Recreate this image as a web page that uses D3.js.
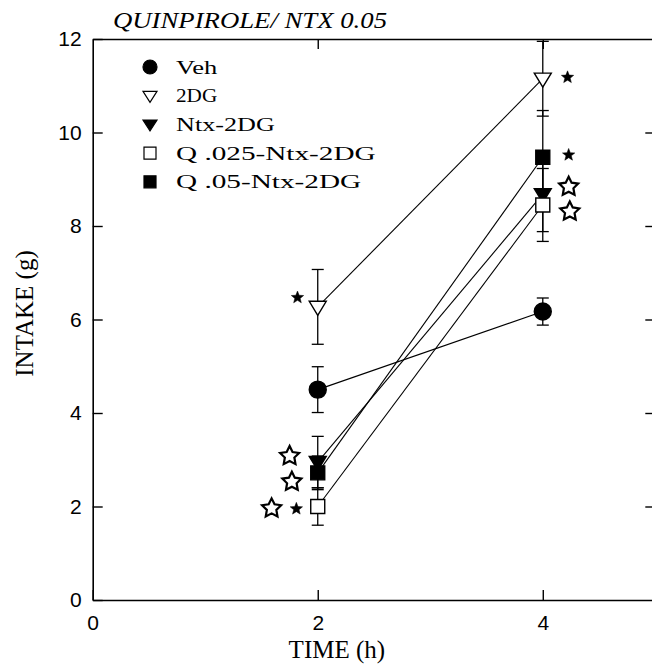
<!DOCTYPE html>
<html>
<head>
<meta charset="utf-8">
<script src="https://cdn.jsdelivr.net/npm/d3@7"></script>
<style>
  html, body { margin: 0; padding: 0; background: #fff; }
  svg { display: block; }
</style>
</head>
<body>
<svg id="chart" width="652" height="665"></svg>
<script>
// Food intake after quinpirole / naltrexone pretreatment, means ± SEM
const times = [2, 4];
const seriesNames = ["Veh", "2DG", "Ntx-2DG", "Q .025-Ntx-2DG", "Q .05-Ntx-2DG"];
const seriesShapes = ["circle", "triangleOpen", "triangleFilled", "squareOpen", "squareFilled"];

const vehMean  = [4.50, 6.17];
const vehSE    = [0.49, 0.29];
const dgMean   = [6.27, 11.15];
const dgSE     = [0.80, 0.80];
const ntxMean  = [2.95, 8.68];
const ntxSE    = [0.55, 0.80];
const q025Mean = [2.00, 8.45];
const q025SE   = [0.40, 0.78];
const q05Mean  = [2.72, 9.47];
const q05SE    = [0.36, 1.00];

const xTicks = [0, 2, 4];
const yTicks = [0, 2, 4, 6, 8, 10, 12];

// significance stars: position in (time, intake) units, filled = small solid star
const starTime   = [4.22, 4.23, 4.23, 4.24, 1.82, 1.75, 1.77, 1.59, 1.81];
const starIntake = [11.18, 9.52, 8.84, 8.31, 6.47, 3.08, 2.53, 1.96, 1.95];
const starFilled = [true, true, false, false, true, false, false, false, true];

const chartTitle = "QUINPIROLE/ NTX 0.05";
const xTitle = "TIME (h)";
const yTitle = "INTAKE (g)";

const means = [vehMean, dgMean, ntxMean, q025Mean, q05Mean];
const ses = [vehSE, dgSE, ntxSE, q025SE, q05SE];
const series = seriesNames.map((name, i) => ({
  name, shape: seriesShapes[i],
  points: times.map((t, j) => ({ t, m: means[i][j], se: ses[i][j] }))
}));
const stars = starTime.map((t, i) => ({ t, v: starIntake[i], filled: starFilled[i] }));

const svg = d3.select("#chart");
const x = d3.scaleLinear().domain([0, 5]).range([92.7, 655.3]);
const y = d3.scaleLinear().domain([0, 12]).range([600, 39]);

const serif = "'Liberation Serif', 'DejaVu Serif', serif";
const sans = "'Liberation Sans', Arial, sans-serif";

// marker shapes
function markerPath(shape, s) {
  if (shape === "circle") return d3.symbol(d3.symbolCircle, Math.PI * s.r * s.r)();
  if (shape.startsWith("square")) return d3.symbol(d3.symbolSquare, s.sq * s.sq)();
  const w = s.tw, h = s.th;
  return `M${-w / 2},${-h * 0.4}L${w / 2},${-h * 0.4}L0,${h * 0.6}Z`;
}
function isFilled(shape) { return shape === "circle" || shape.endsWith("Filled"); }

function starPath(rOut, rIn) {
  const p = d3.path();
  for (let k = 0; k < 10; k++) {
    const r = k % 2 === 0 ? rOut : rIn;
    const a = -Math.PI / 2 + k * Math.PI / 5;
    const px = r * Math.cos(a), py = r * Math.sin(a);
    if (k === 0) p.moveTo(px, py); else p.lineTo(px, py);
  }
  p.closePath();
  return p.toString();
}

// axes
function styleAxis(g) {
  g.select(".domain").attr("stroke", "#000").attr("stroke-width", 1.6);
  g.selectAll(".tick line").attr("stroke", "#000").attr("stroke-width", 1.4);
}

svg.append("g")
  .attr("transform", `translate(${x(0)},0)`)
  .call(d3.axisLeft(y).tickValues(yTicks).tickSize(-10).tickSizeOuter(0).tickPadding(11).tickFormat(d3.format("d")))
  .call(styleAxis)
  .call(g => g.selectAll(".tick text").attr("font-family", sans).attr("font-size", 21).attr("fill", "#000"));

svg.append("g")
  .attr("transform", `translate(0,${y(0)})`)
  .call(d3.axisBottom(x).tickValues(xTicks).tickSize(-10).tickSizeOuter(0).tickPadding(15).tickFormat(d3.format("d")))
  .call(styleAxis)
  .call(g => g.selectAll(".tick text").attr("font-family", sans).attr("font-size", 21).attr("fill", "#000"));

svg.append("g")
  .attr("transform", `translate(0,${y(12)})`)
  .call(d3.axisTop(x).tickValues([2, 4]).tickSize(-10).tickSizeOuter(0).tickFormat(""))
  .call(styleAxis);

svg.append("g")
  .attr("transform", `translate(${x(5)},0)`)
  .call(d3.axisRight(y).tickValues(yTicks.slice(1, -1)).tickSize(-10).tickSizeOuter(0).tickFormat(""))
  .call(styleAxis);

// titles
svg.append("text")
  .attr("x", 113).attr("y", 28)
  .attr("font-family", serif).attr("font-style", "italic").attr("font-size", 24)
  .attr("textLength", 274).attr("lengthAdjust", "spacingAndGlyphs")
  .text(chartTitle);

svg.append("text")
  .attr("x", x(2.17)).attr("y", 658)
  .attr("text-anchor", "middle")
  .attr("font-family", serif).attr("font-size", 25)
  .text(xTitle);

svg.append("text")
  .attr("transform", `translate(33,${(y(4) + y(8)) / 2 - 6}) rotate(-90)`)
  .attr("text-anchor", "middle")
  .attr("font-family", serif).attr("font-size", 25)
  .text(yTitle);

const plotMarker = { r: 8.5, sq: 14, tw: 17, th: 14 };

// error bars
const eb = svg.append("g").attr("stroke", "#000").attr("stroke-width", 1.3).attr("fill", "none");
series.forEach(s => s.points.forEach(p => {
  const cx = x(p.t);
  eb.append("line").attr("x1", cx).attr("x2", cx).attr("y1", y(p.m - p.se)).attr("y2", y(p.m + p.se));
  [p.m - p.se, p.m + p.se].forEach(v => {
    eb.append("line").attr("x1", cx - 6).attr("x2", cx + 6).attr("y1", y(v)).attr("y2", y(v));
  });
}));

// connecting lines
const line = d3.line().x(d => x(d.t)).y(d => y(d.m));
svg.append("g").selectAll("path").data(series).join("path")
  .attr("d", d => line(d.points))
  .attr("fill", "none").attr("stroke", "#000").attr("stroke-width", 1.1);

// markers
series.forEach(s => {
  svg.append("g").selectAll("path").data(s.points).join("path")
    .attr("transform", d => `translate(${x(d.t)},${y(d.m)})`)
    .attr("d", markerPath(s.shape, plotMarker))
    .attr("fill", isFilled(s.shape) ? "#000" : "#fff")
    .attr("stroke", "#000").attr("stroke-width", 1.4);
});

// significance stars
svg.append("g").selectAll("path").data(stars).join("path")
  .attr("transform", d => `translate(${x(d.t)},${y(d.v)})`)
  .attr("d", d => d.filled ? starPath(6.5, 2.8) : starPath(10, 5))
  .attr("fill", d => d.filled ? "#000" : "#fff")
  .attr("stroke", "#000").attr("stroke-width", d => d.filled ? 0.5 : 2.2)
  .attr("stroke-linejoin", "miter");

// legend
const legendMarker = { r: 7, sq: 12, tw: 14, th: 11 };
const lg = svg.append("g").attr("transform", "translate(150,67)");
series.forEach((s, i) => {
  const row = lg.append("g").attr("transform", `translate(0,${i * 28.7})`);
  row.append("path")
    .attr("d", markerPath(s.shape, legendMarker))
    .attr("fill", isFilled(s.shape) ? "#000" : "#fff")
    .attr("stroke", "#000").attr("stroke-width", 1.2);
  row.append("text")
    .attr("x", 26).attr("y", 6.5)
    .attr("font-family", serif).attr("font-size", 19)
    .attr("textLength", s.name.length * 14.4 - 2).attr("lengthAdjust", "spacingAndGlyphs")
    .text(s.name);
});
</script>
</body>
</html>
